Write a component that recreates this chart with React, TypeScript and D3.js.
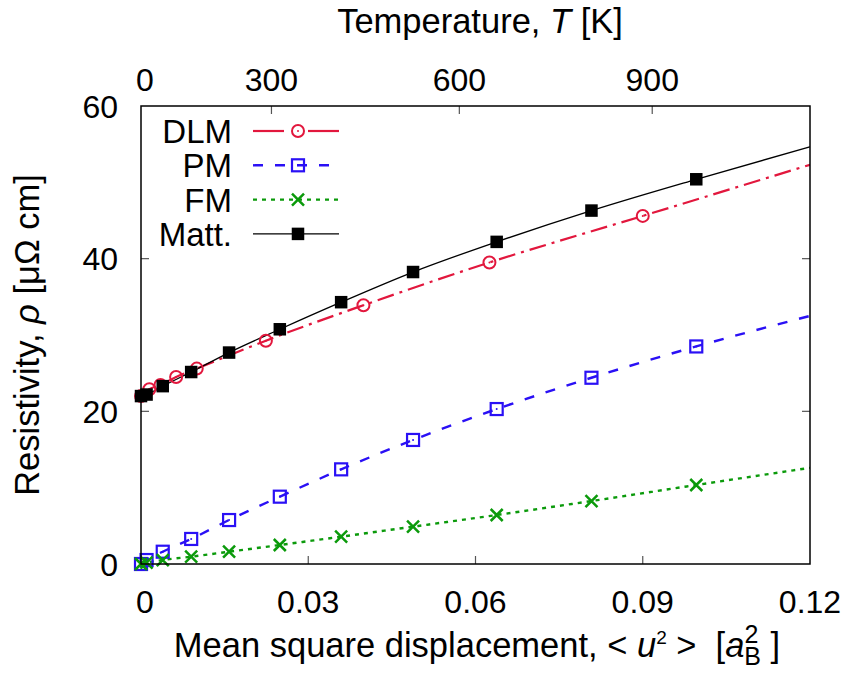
import React from "react";
import * as d3 from "d3";

// ---- data ----
const uMain = [0, 0.001, 0.0039, 0.009, 0.0158, 0.0249, 0.0359, 0.0488, 0.0638, 0.0808, 0.0996];
const mattRho = [22.0, 22.2, 23.3, 25.15, 27.7, 30.75, 34.3, 38.25, 42.2, 46.3, 50.4];
const pmRho = [0, 0.52, 1.61, 3.28, 5.76, 8.82, 12.4, 16.25, 20.3, 24.4, 28.5];
const fmRho = [0, 0.17, 0.52, 0.96, 1.61, 2.49, 3.58, 4.89, 6.42, 8.25, 10.35];
const uDLM = [0, 0.0015, 0.0035, 0.0063, 0.01, 0.0224, 0.0399, 0.0625, 0.09];
const dlmRho = [22.0, 22.9, 23.45, 24.5, 25.6, 29.25, 33.9, 39.5, 45.6];
// line continuation to the right edge
const uEnd = [0.12];
const dlmEnd = [52.3];
const pmEnd = [32.5];
const fmEnd = [12.6];
const mattEnd = [54.65];

const xTicks = [0, 0.03, 0.06, 0.09, 0.12];
const xTickLabels = ["0", "0.03", "0.06", "0.09", "0.12"];
const yTicks = [0, 20, 40, 60];
const tempTicks = ["0", "300", "600", "900"];
const tempTickU = [0, 0.0234, 0.0571, 0.0917];

const W = 851, H = 673;
const L = 141, R = 810, T = 106, B = 564;
const FONT = "'Liberation Sans', Arial, Helvetica, sans-serif";
const FS_TICK = 32;
const FS_LEG = 33;
const FS_TITLE = 34.5;

const x = d3.scaleLinear().domain([0, 0.12]).range([L, R]);
const y = d3.scaleLinear().domain([0, 60]).range([B, T]);

const C_DLM = "#e2173d";
const C_PM = "#2a10f5";
const C_FM = "#0b9a0b";
const C_MATT = "#000000";

type P = [number, number];
const zip = (us: number[], rs: number[]): P[] => us.map((u, i) => [u, rs[i]]);

const line = d3
  .line<P>()
  .x((d) => x(d[0]))
  .y((d) => y(d[1]))
  .curve(d3.curveMonotoneX);

function Circle({ cx, cy, color }: { cx: number; cy: number; color: string }) {
  return (
    <g>
      <circle cx={cx} cy={cy} r={6} fill="none" stroke={color} strokeWidth={2} />
      <circle cx={cx} cy={cy} r={1} fill={color} />
    </g>
  );
}
function OpenSquare({ cx, cy, color }: { cx: number; cy: number; color: string }) {
  const s = 12;
  return (
    <g>
      <rect x={cx - s / 2} y={cy - s / 2} width={s} height={s} fill="none" stroke={color} strokeWidth={2.2} />
      <circle cx={cx} cy={cy} r={1} fill={color} />
    </g>
  );
}
function Cross({ cx, cy, color }: { cx: number; cy: number; color: string }) {
  const s = 6;
  return (
    <path
      d={`M${cx - s},${cy - s}L${cx + s},${cy + s}M${cx - s},${cy + s}L${cx + s},${cy - s}`}
      stroke={color}
      strokeWidth={2.5}
      fill="none"
    />
  );
}
function FilledSquare({ cx, cy, color }: { cx: number; cy: number; color: string }) {
  const s = 12.5;
  return <rect x={cx - s / 2} y={cy - s / 2} width={s} height={s} fill={color} />;
}

const series = [
  { name: "DLM", u: uDLM, r: dlmRho, end: dlmEnd, color: C_DLM, dash: "17,6,3,6", width: 2.2, Marker: Circle },
  { name: "PM", u: uMain, r: pmRho, end: pmEnd, color: C_PM, dash: "10,12", width: 2.4, Marker: OpenSquare },
  { name: "FM", u: uMain, r: fmRho, end: fmEnd, color: C_FM, dash: "4,5", width: 2.4, Marker: Cross },
  { name: "Matt.", u: uMain, r: mattRho, end: mattEnd, color: C_MATT, dash: "none", width: 1.3, Marker: FilledSquare },
];

export default function App() {
  const legendY0 = 131;
  const legendDy = 34.3;
  return (
    <svg
      width={W}
      height={H}
      viewBox={`0 0 ${W} ${H}`}
      style={{ position: "absolute", left: 0, top: 0, background: "#fff" }}
      fontFamily={FONT}
    >
      <rect x={0} y={0} width={W} height={H} fill="#fff" />
      <defs>
        <clipPath id="plotclip">
          <rect x={L} y={T} width={R - L} height={B - T} />
        </clipPath>
      </defs>

      {/* ticks */}
      <g stroke="#555" strokeWidth={1.2}>
        {xTicks.slice(1, -1).map((t) => (
          <line key={"bx" + t} x1={x(t)} x2={x(t)} y1={B} y2={B - 8} />
        ))}
        {tempTickU.slice(1).map((u, i) => (
          <line key={"tx" + i} x1={x(u)} x2={x(u)} y1={T} y2={T + 8} />
        ))}
        {yTicks.slice(1, -1).map((t) => (
          <g key={"y" + t}>
            <line x1={L} x2={L + 8} y1={y(t)} y2={y(t)} />
            <line x1={R} x2={R - 8} y1={y(t)} y2={y(t)} />
          </g>
        ))}
      </g>

      {/* lines */}
      <g clipPath="url(#plotclip)">
        {series.map((s) => (
          <path
            key={s.name}
            d={line([...zip(s.u, s.r), ...zip(uEnd, s.end)]) || ""}
            fill="none"
            stroke={s.color}
            strokeWidth={s.width}
            strokeDasharray={s.dash}
          />
        ))}
      </g>
      {/* markers */}
      {series.map((s) => (
        <g key={"m" + s.name}>
          {s.u.map((u, i) => (
            <s.Marker key={i} cx={x(u)} cy={y(s.r[i])} color={s.color} />
          ))}
        </g>
      ))}

      {/* frame */}
      <rect x={L} y={T} width={R - L} height={B - T} fill="none" stroke="#000" strokeWidth={1.5} />

      {/* legend */}
      {series.map((s, i) => {
        const ly = legendY0 + i * legendDy;
        const x1 = 253, x2 = 339, xm = 298;
        return (
          <g key={"lg" + s.name}>
            <text x={232} y={ly + 12} textAnchor="end" fontSize={FS_LEG} fill="#000">
              {s.name}
            </text>
            {s.name === "DLM" ? (
              <g stroke={s.color} strokeWidth={s.width}>
                <line x1={x1} x2={xm - 14} y1={ly} y2={ly} />
                <line x1={xm + 10} x2={x2} y1={ly} y2={ly} />
              </g>
            ) : (
              <line x1={x1} x2={x2} y1={ly} y2={ly} stroke={s.color} strokeWidth={s.width} strokeDasharray={s.dash} />
            )}
            <s.Marker cx={xm} cy={ly} color={s.color} />
          </g>
        );
      })}

      {/* tick labels */}
      <g fontSize={FS_TICK} fill="#000">
        {xTicks.map((t, i) => (
          <text key={"xl" + t} x={x(t) + (i === 0 ? 4 : 0)} y={613} textAnchor="middle">
            {xTickLabels[i]}
          </text>
        ))}
        {tempTicks.map((lab, i) => (
          <text key={"tl" + lab} x={x(tempTickU[i]) + (i === 0 ? 4 : 0)} y={91} textAnchor="middle">
            {lab}
          </text>
        ))}
        {yTicks.map((t) => (
          <text key={"yl" + t} x={118} y={y(t) + 11.5} textAnchor="end">
            {t}
          </text>
        ))}
      </g>

      {/* axis titles */}
      <text x={480} y={33} textAnchor="middle" fontSize={FS_TITLE}>
        Temperature, <tspan fontStyle="italic">T</tspan> [K]
      </text>
      <text x={477} y={657} textAnchor="middle" fontSize={FS_TITLE}>
        Mean square displacement, &lt; <tspan fontStyle="italic">u</tspan>
        <tspan fontSize={19} dy={-13}>2</tspan>
        <tspan dy={13}>{"\u00a0>\u00a0\u00a0["}</tspan>
        <tspan fontStyle="italic">a</tspan>
        <tspan fontSize={25} dy={-14}>2</tspan>
        <tspan fontSize={25} dx={-14} dy={22}>B</tspan>
        <tspan dy={-8}>{"\u00a0]"}</tspan>
      </text>
      <text
        transform={`translate(39, ${(T + B) / 2}) rotate(-90)`}
        textAnchor="middle"
        fontSize={FS_TITLE}
      >
        Resistivity, <tspan fontStyle="italic">ρ</tspan> [μΩ cm]
      </text>
    </svg>
  );
}
